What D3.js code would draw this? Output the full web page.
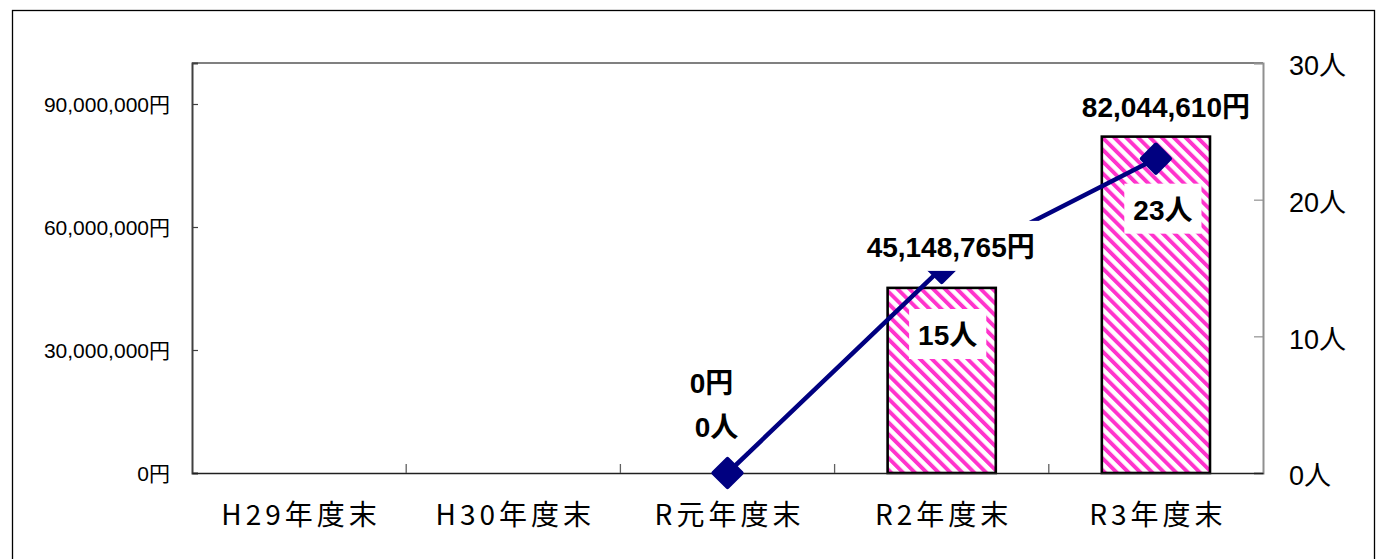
<!DOCTYPE html>
<html><head><meta charset="utf-8">
<script src="https://cdn.jsdelivr.net/npm/d3@7"></script>
<style>
html,body{margin:0;padding:0;background:#fff;}
svg{display:block;}
</style></head>
<body>
<svg id="chart" width="1378" height="559"></svg>
<script>
// ---- data ----
const categories = ["H29年度末", "H30年度末", "R元年度末", "R2年度末", "R3年度末"];
const amounts = [null, null, 0, 45148765, 82044610];   // 円 (bars)
const people = [null, null, 0, 15, 23];                 // 人 (line)
const amountTicks = [0, 30000000, 60000000, 90000000];
const peopleTicks = [0, 10, 20, 30];
const amountMax = 100000000;
const peopleMax = 30;

// ---- layout (label offsets, not data) ----
const moneyLabelOffsets = [null, null, [-16, -80], [9, -31], [10, -20]];
const peopleLabelOffsets = [null, null, [-11, -36], [6, 77], [7, 61]];

const svg = d3.select("#chart");
const plot = {left: 192, right: 1263, top: 63, bottom: 473};

const x = d3.scaleBand().domain(categories).range([plot.left, plot.right]).paddingInner(0).paddingOuter(0);
const yL = d3.scaleLinear().domain([0, amountMax]).range([plot.bottom, plot.top]);
const yR = d3.scaleLinear().domain([0, peopleMax]).range([plot.bottom, plot.top]);

const fontBase = "'Liberation Sans', Arial, 'Noto Sans CJK JP', sans-serif";

// pattern
const defs = svg.append("defs");
const P = 8.4;
const pat = defs.append("pattern").attr("id", "stripes")
  .attr("patternUnits", "userSpaceOnUse").attr("width", P).attr("height", P)
  .attr("patternTransform", "rotate(-45)");
pat.append("rect").attr("width", P).attr("height", P).attr("fill", "#ffffff");
pat.append("rect").attr("x", 0).attr("width", 3.9).attr("height", P).attr("fill", "#ff33cc");

// outer frame
svg.append("rect").attr("x", 12.5).attr("y", 10.5).attr("width", 1362).attr("height", 600)
  .attr("fill", "none").attr("stroke", "#000").attr("stroke-width", 1.3);

// plot frame top (gray)
svg.append("line").attr("x1", plot.left).attr("x2", plot.right).attr("y1", plot.top).attr("y2", plot.top)
  .attr("stroke", "#808080").attr("stroke-width", 2);

// left axis
const gL = svg.append("g").attr("transform", `translate(${plot.left},0)`)
  .call(d3.axisRight(yL).tickValues(amountTicks).tickSize(6).tickFormat(""));
gL.select(".domain").attr("stroke", "#404040").attr("stroke-width", 2);
gL.selectAll(".tick line").attr("stroke", "#404040").attr("stroke-width", 1.2);
svg.append("g").selectAll("text").data(amountTicks).join("text")
  .attr("x", 170).attr("y", d => yL(d) + 1).attr("dy", "0.35em")
  .attr("text-anchor", "end").attr("font-family", fontBase).attr("font-size", 21)
  .attr("fill", "#000")
  .text(d => d3.format(",")(d) + "円");

// right axis
const gR = svg.append("g").attr("transform", `translate(${plot.right},0)`)
  .call(d3.axisLeft(yR).tickValues(peopleTicks).tickSize(9).tickFormat(""));
gR.select(".domain").attr("stroke", "#909090").attr("stroke-width", 2);
gR.selectAll(".tick line").attr("stroke", "#909090").attr("stroke-width", 1.2);
svg.append("g").selectAll("text").data(peopleTicks).join("text")
  .attr("x", 1289).attr("y", d => yR(d) + 3).attr("dy", "0.35em")
  .attr("text-anchor", "start").attr("font-family", fontBase).attr("font-size", 27)
  .attr("fill", "#000")
  .text(d => d + "人");

// bars
const bw = x.bandwidth() * 0.505;
const barData = categories.map((c, i) => ({c, v: amounts[i], i})).filter(d => d.v !== null && d.v > 0);
svg.append("g").selectAll("rect").data(barData).join("rect")
  .attr("x", d => x(d.c) + x.bandwidth() / 2 - bw / 2)
  .attr("y", d => yL(d.v))
  .attr("width", bw)
  .attr("height", d => yL(0) - yL(d.v))
  .attr("fill", "url(#stripes)")
  .attr("stroke", "#000").attr("stroke-width", 2.6);

// bottom axis
const gB = svg.append("g").attr("transform", `translate(0,${plot.bottom})`)
  .call(d3.axisTop(x).tickSize(0).tickFormat(""));
gB.select(".domain").attr("stroke", "#202020").attr("stroke-width", 1.6);
const bounds = categories.slice(1).map(c => x(c));
svg.append("g").selectAll("line").data(bounds).join("line")
  .attr("x1", d => d).attr("x2", d => d).attr("y1", plot.bottom).attr("y2", plot.bottom - 9)
  .attr("stroke", "#606060").attr("stroke-width", 1.3);
// category labels
svg.append("g").selectAll("text").data(categories).join("text")
  .attr("x", d => x(d) + x.bandwidth() / 2 + 2).attr("y", 525)
  .attr("text-anchor", "middle").attr("font-family", "'Noto Sans CJK JP', sans-serif")
  .attr("font-size", 28).attr("fill", "#000")
  .attr("letter-spacing", 4)
  .text(d => d);

// line
const lineData = categories.map((c, i) => ({c, v: people[i], i})).filter(d => d.v !== null);
const line = d3.line().x(d => x(d.c) + x.bandwidth() / 2).y(d => yR(d.v));
svg.append("path").datum(lineData).attr("d", line)
  .attr("fill", "none").attr("stroke", "#000080").attr("stroke-width", 4.5);
svg.append("g").selectAll("path").data(lineData).join("path")
  .attr("d", d3.symbol().type(d3.symbolSquare).size(400))
  .attr("transform", d => `translate(${x(d.c) + x.bandwidth() / 2},${yR(d.v)}) rotate(45)`)
  .attr("fill", "#000080").attr("stroke", "#000080").attr("stroke-width", 4).attr("stroke-linejoin", "round");

// data labels with white boxes
function addLabel(cx, baseline, txt) {
  const g = svg.append("g");
  const r = g.append("rect").attr("fill", "#fff");
  const t = g.append("text").attr("x", cx).attr("y", baseline).attr("text-anchor", "middle")
    .attr("font-family", fontBase).attr("font-weight", "bold").attr("font-size", 28)
    .attr("fill", "#000").text(txt);
  const bb = t.node().getBBox();
  r.attr("x", bb.x - 9).attr("width", bb.width + 18)
   .attr("y", baseline - 36).attr("height", 50);
}
categories.forEach((c, i) => {
  const cx = x(c) + x.bandwidth() / 2;
  if (amounts[i] !== null && moneyLabelOffsets[i]) {
    const o = moneyLabelOffsets[i];
    addLabel(cx + o[0], yL(amounts[i]) + o[1], d3.format(",")(amounts[i]) + "円");
  }
});
categories.forEach((c, i) => {
  const cx = x(c) + x.bandwidth() / 2;
  if (people[i] !== null && peopleLabelOffsets[i]) {
    const o = peopleLabelOffsets[i];
    addLabel(cx + o[0], yR(people[i]) + o[1], people[i] + "人");
  }
});
</script>
</body></html>
